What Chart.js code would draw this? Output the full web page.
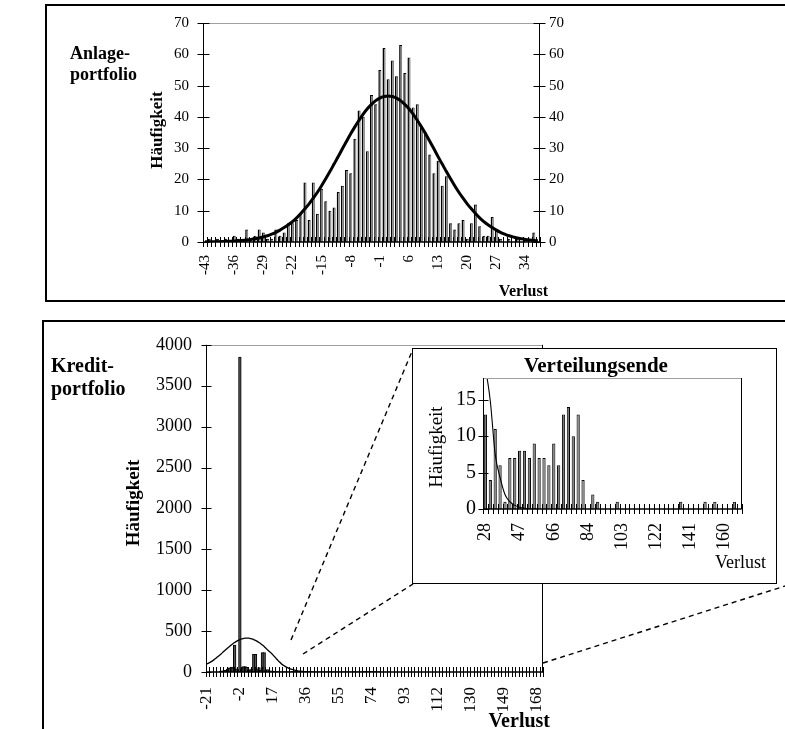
<!DOCTYPE html>
<html><head><meta charset="utf-8">
<script src="https://cdn.jsdelivr.net/npm/chart.js@4.4.1/dist/chart.umd.min.js"></script>
<style>
html,body{margin:0;padding:0;background:#fff;width:785px;height:729px;overflow:hidden;}
.abs{position:absolute;}
#c1{left:0;top:0;z-index:0}
#c2{left:0;top:320px;z-index:0}
#back{left:0;top:0;z-index:1}
#inbox{left:412px;top:348px;width:365px;height:236px;box-sizing:border-box;border:1.5px solid #000;background:#fff;z-index:2}
#c3{left:413px;top:350px;z-index:3}
#front{left:0;top:0;z-index:4}
svg text{font-family:'Liberation Serif','Times New Roman',serif;fill:#000}
</style></head>
<body>
<canvas id="c1" class="abs" width="785" height="300"></canvas>
<canvas id="c2" class="abs" width="785" height="409"></canvas>
<svg id="back" class="abs" width="785" height="729">
  <g stroke="#000" stroke-width="2" fill="none">
    <polyline points="786,5 46,5 46,301 786,301"/>
    <polyline points="786,321 43,321 43,730"/>
  </g>
  <g stroke="#000" stroke-width="1.4" stroke-dasharray="5,4">
    <line x1="291" y1="640" x2="413" y2="349"/>
    <line x1="303" y1="654" x2="413" y2="584"/>
    <line x1="543" y1="663" x2="785" y2="586"/>
  </g>
</svg>
<div id="inbox" class="abs"></div>
<canvas id="c3" class="abs" width="362" height="232"></canvas>
<svg id="front" class="abs" width="785" height="729">
  <text x="70" y="59" font-size="18" font-weight="bold">Anlage-</text>
  <text x="70" y="80" font-size="18" font-weight="bold">portfolio</text>
  <text transform="translate(162,130) rotate(-90)" text-anchor="middle" font-size="17" font-weight="bold">Häufigkeit</text>
  <text x="548" y="296" text-anchor="end" font-size="16" font-weight="bold">Verlust</text>
  <text x="51" y="372" font-size="20" font-weight="bold">Kredit-</text>
  <text x="51" y="395" font-size="20" font-weight="bold">portfolio</text>
  <text transform="translate(139,503) rotate(-90)" text-anchor="middle" font-size="19" font-weight="bold">Häufigkeit</text>
  <text x="550" y="727" text-anchor="end" font-size="20" font-weight="bold">Verlust</text>
  <text x="596" y="372" text-anchor="middle" font-size="21" font-weight="bold">Verteilungsende</text>
  <text transform="translate(442,447) rotate(-90)" text-anchor="middle" font-size="19">Häufigkeit</text>
  <text x="766" y="568" text-anchor="end" font-size="18">Verlust</text>
</svg>
<script>
// ---------- DATA ----------
// Anlageportfolio: loss categories -43 ... 37 (81 bins)
const anlageTickLabels = ['-43','-36','-29','-22','-15','-8','-1','6','13','20','27','34'];
const anlageBars = [
  0,1,0,1,0,1,0,2,1,1,
  4,1,2,4,3,1,1,4,2,3,
  6,6,7,9,19,7,19,9,17,13,
  10,11,16,18,23,22,33,42,40,29,
  47,44,55,62,52,58,53,63,54,59,
  43,44,37,35,28,22,26,18,21,6,
  4,6,7,1,6,12,5,2,2,8,
  4,1,0,1,0,1,0,1,0,3,
  0];
const anlageCurve = [
  0.04,0.05,0.07,0.09,0.12,0.16,0.22,0.29,0.38,0.49,
  0.64,0.82,1.04,1.3,1.65,2.0,2.5,3.1,3.8,4.6,
  5.5,6.5,7.7,9.1,10.6,12.2,14.0,15.9,18.0,20.2,
  22.5,24.9,27.3,29.8,32.2,34.6,36.8,38.9,40.9,42.6,
  44.0,45.2,46.0,46.5,46.7,46.5,46.0,45.2,44.0,42.6,
  40.9,38.9,36.8,34.6,32.2,29.8,27.3,24.9,22.5,20.2,
  18.0,15.9,14.0,12.2,10.6,9.1,7.7,6.5,5.5,4.6,
  3.8,3.1,2.5,2.0,1.65,1.3,1.04,0.82,0.64,0.49,
  0.38];
const anlageYTicks = {min:0, max:70, step:10};

// Kreditportfolio: loss categories -21 ... 172 (194 bins)
const kreditCategoryCount = 194;
const kreditTickLabels = ['-21','-2','17','36','55','74','93','112','130','149','168'];
const kreditBars = [
  0,0,0,0,0,0,0,0,10,15,
  20,20,35,50,60,55,330,40,30,3850,
  40,65,65,60,25,30,40,215,215,30,
  55,25,236,236,20,30,10,15,5,10,
  5,5,3,3,3,3,3,3,3,5,
  4,4,2,4,4,2,2,1,3,3,
  2,3,3,3,3,3,3,3,3,3,
  2,4,3,2,3,3,3,2,3,2,
  2,3,3,2,3,4,2,3,2,2,
  5,5,5,5,4,4,5,5,5,2,
  1,0,1,0,0,1];
const kreditCurve = [
  100,108,120,133,148,164,182,199,218,237,
  256,274,293,311,329,345,360,374,386,396,
  404,409,413,414,413,409,404,396,386,374,
  360,345,329,311,290,270,250,232,210,186,
  162,139,118,99,83,69,57,47,38,31,
  25,20,16,12,9,7,5,4,3,2,
  1,0];
const kreditYTicks = {min:0, max:4000, step:500};

// Verteilungsende (inset): 53 bins from 28 upward
const insetTickLabels = ['28','47','66','84','103','122','141','160'];
const insetBars = [
  13,4,11,6,1,7,7,8,8,7,
  9,7,7,6,9,6,13,14,10,13,
  4,0,2,1,0,0,0,1,0,0,
  0,0,0,0,0,0,0,0,0,0,
  1,0,0,0,0,1,0,1,0,0,
  0,1,0];
const insetCurve = [19.5,14.8,7.5,4.3,2.0,1.0,0.5,0.25,0.1,0,0,0];
const insetYTicks = [0,5,10,15];
const insetYMax = 18;

// ---------- HELPERS ----------
const SERIF = "'Liberation Serif','Times New Roman',serif";
function buildLabels(count, step, tickLabels) {
  const out = [];
  for (let i = 0; i < count; i++) {
    out.push(i % step === 0 && tickLabels[i / step] !== undefined ? tickLabels[i / step] : '');
  }
  return out;
}
const plainNumber = v => String(v);
const framePlugin = {
  id: 'frame',
  afterDatasetsDraw(chart, args, o) {
    const ctx = chart.ctx, a = chart.chartArea, xs = chart.scales.x;
    const seg = (x1, y1, x2, y2) => { ctx.beginPath(); ctx.moveTo(x1, y1); ctx.lineTo(x2, y2); ctx.stroke(); };
    ctx.save();
    ctx.lineWidth = 1;
    ctx.strokeStyle = '#a0a0a0';
    seg(a.left, Math.round(a.top) + 0.5, a.right, Math.round(a.top) + 0.5);
    ctx.strokeStyle = '#000';
    const xr = Math.round(a.right) - 0.5, xl = Math.round(a.left) + 0.5;
    seg(xr, a.top, xr, a.bottom);
    seg(xl, a.top, xl, a.bottom);
    ctx.lineWidth = o.axisWidth || 1.5;
    seg(a.left, a.bottom, a.right, a.bottom);
    ctx.lineWidth = 1;
    const n = chart.data.labels.length;
    const half = (xs.getPixelForValue(1) - xs.getPixelForValue(0)) / 2;
    for (let i = 0; i <= n; i += o.xStep) {
      const x = Math.round(xs.getPixelForValue(i) - half) + 0.5;
      seg(x, a.bottom - o.tick, x, a.bottom + o.tick);
    }
    (o.yScales || ['y']).forEach(id => {
      const s = chart.scales[id];
      const x0 = s.position === 'right' ? xr : xl;
      s.ticks.forEach(t => {
        const y = Math.round(s.getPixelForValue(t.value)) + 0.5;
        seg(x0 - o.yTick, y, x0 + o.yTick, y);
      });
    });
    ctx.restore();
  }
};
const noGrid = {display: false, drawTicks: false};
const noBorder = {display: false};
function font(size) { return {family: SERIF, size: size}; }

// ---------- TOP CHART ----------
new Chart(document.getElementById('c1'), {
  type: 'bar',
  data: {
    labels: buildLabels(anlageBars.length, 7, anlageTickLabels),
    datasets: [
      {type: 'line', data: anlageCurve, borderColor: '#000', borderWidth: 3, pointRadius: 0,
       cubicInterpolationMode: 'monotone', fill: false, yAxisID: 'y'},
      {type: 'bar', data: anlageBars, backgroundColor: '#8a8a8a', borderColor: '#000',
       borderWidth: {left: 1.5, top: 1, right: 0.6, bottom: 0}, borderSkipped: 'start',
       barPercentage: 0.72, categoryPercentage: 1, yAxisID: 'y'}
    ]
  },
  options: {
    responsive: false, animation: false, devicePixelRatio: 1,
    layout: {padding: {top: 18, left: 0, right: 0, bottom: 0}},
    plugins: {legend: {display: false}, tooltip: {enabled: false},
      frame: {xStep: 1, tick: 5, yTick: 6, yScales: ['y', 'y2']}},
    scales: {
      x: {grid: noGrid, border: noBorder,
          ticks: {autoSkip: false, maxRotation: 90, minRotation: 90, padding: 13, color: '#000', font: font(15)},
          afterFit(s) { s.height = 58; }},
      y: {position: 'left', min: anlageYTicks.min, max: anlageYTicks.max, grid: noGrid, border: noBorder,
          ticks: {stepSize: anlageYTicks.step, padding: 14, color: '#000', font: font(15), callback: plainNumber},
          afterFit(s) { s.width = 203; }},
      y2: {position: 'right', min: anlageYTicks.min, max: anlageYTicks.max, grid: noGrid, border: noBorder,
          ticks: {stepSize: anlageYTicks.step, padding: 9, color: '#000', font: font(15), callback: plainNumber},
          afterFit(s) { s.width = 245; }}
    }
  },
  plugins: [framePlugin]
});

// ---------- BOTTOM CHART ----------
new Chart(document.getElementById('c2'), {
  type: 'bar',
  data: {
    labels: buildLabels(kreditCategoryCount, 19, kreditTickLabels),
    datasets: [
      {type: 'line', data: kreditCurve, borderColor: '#000', borderWidth: 1.3, pointRadius: 0,
       cubicInterpolationMode: 'monotone', fill: false},
      {type: 'bar', data: kreditBars, backgroundColor: '#555', borderColor: '#000',
       borderWidth: 1, barThickness: 2.7}
    ]
  },
  options: {
    responsive: false, animation: false, devicePixelRatio: 1,
    layout: {padding: {top: 13, left: 0, right: 0, bottom: 0}},
    plugins: {legend: {display: false}, tooltip: {enabled: false},
      frame: {xStep: 2, tick: 5, yTick: 5, yScales: ['y']}},
    scales: {
      x: {grid: noGrid, border: noBorder,
          ticks: {autoSkip: false, maxRotation: 90, minRotation: 90, padding: 15, color: '#000', font: font(17)},
          afterFit(s) { s.height = 57; }},
      y: {position: 'left', min: kreditYTicks.min, max: kreditYTicks.max, grid: noGrid, border: noBorder,
          ticks: {stepSize: kreditYTicks.step, padding: 14, color: '#000', font: font(18), callback: plainNumber},
          afterFit(s) { s.width = 206; }},
      yr: {position: 'right', display: true, grid: noGrid, border: noBorder, ticks: {display: false},
          afterFit(s) { s.width = 242; }}
    }
  },
  plugins: [framePlugin]
});

// ---------- INSET CHART ----------
new Chart(document.getElementById('c3'), {
  type: 'bar',
  data: {
    labels: buildLabels(insetBars.length, 7, insetTickLabels),
    datasets: [
      {type: 'line', data: insetCurve, borderColor: '#000', borderWidth: 1.1, pointRadius: 0,
       cubicInterpolationMode: 'monotone', fill: false, clip: 0},
      {type: 'bar', data: insetBars, backgroundColor: '#7a7a7a', borderColor: '#000',
       borderWidth: 1, barPercentage: 0.66, categoryPercentage: 1}
    ]
  },
  options: {
    responsive: false, animation: false, devicePixelRatio: 1,
    layout: {padding: {top: 28, left: 0, right: 0, bottom: 0}},
    plugins: {legend: {display: false}, tooltip: {enabled: false},
      frame: {xStep: 1, tick: 5, yTick: 5, yScales: ['y']}},
    scales: {
      x: {grid: noGrid, border: noBorder,
          ticks: {autoSkip: false, maxRotation: 90, minRotation: 90, padding: 14, color: '#000', font: font(18)},
          afterFit(s) { s.height = 73; }},
      y: {position: 'left', min: 0, max: insetYMax, grid: noGrid, border: noBorder,
          ticks: {padding: 7, color: '#000', font: font(20), callback: plainNumber},
          afterBuildTicks(s) { s.ticks = insetYTicks.map(v => ({value: v})); },
          afterFit(s) { s.width = 70; }},
      yr: {position: 'right', display: true, grid: noGrid, border: noBorder, ticks: {display: false},
          afterFit(s) { s.width = 18; }}
    }
  },
  plugins: [framePlugin]
});
</script>
</body></html>
